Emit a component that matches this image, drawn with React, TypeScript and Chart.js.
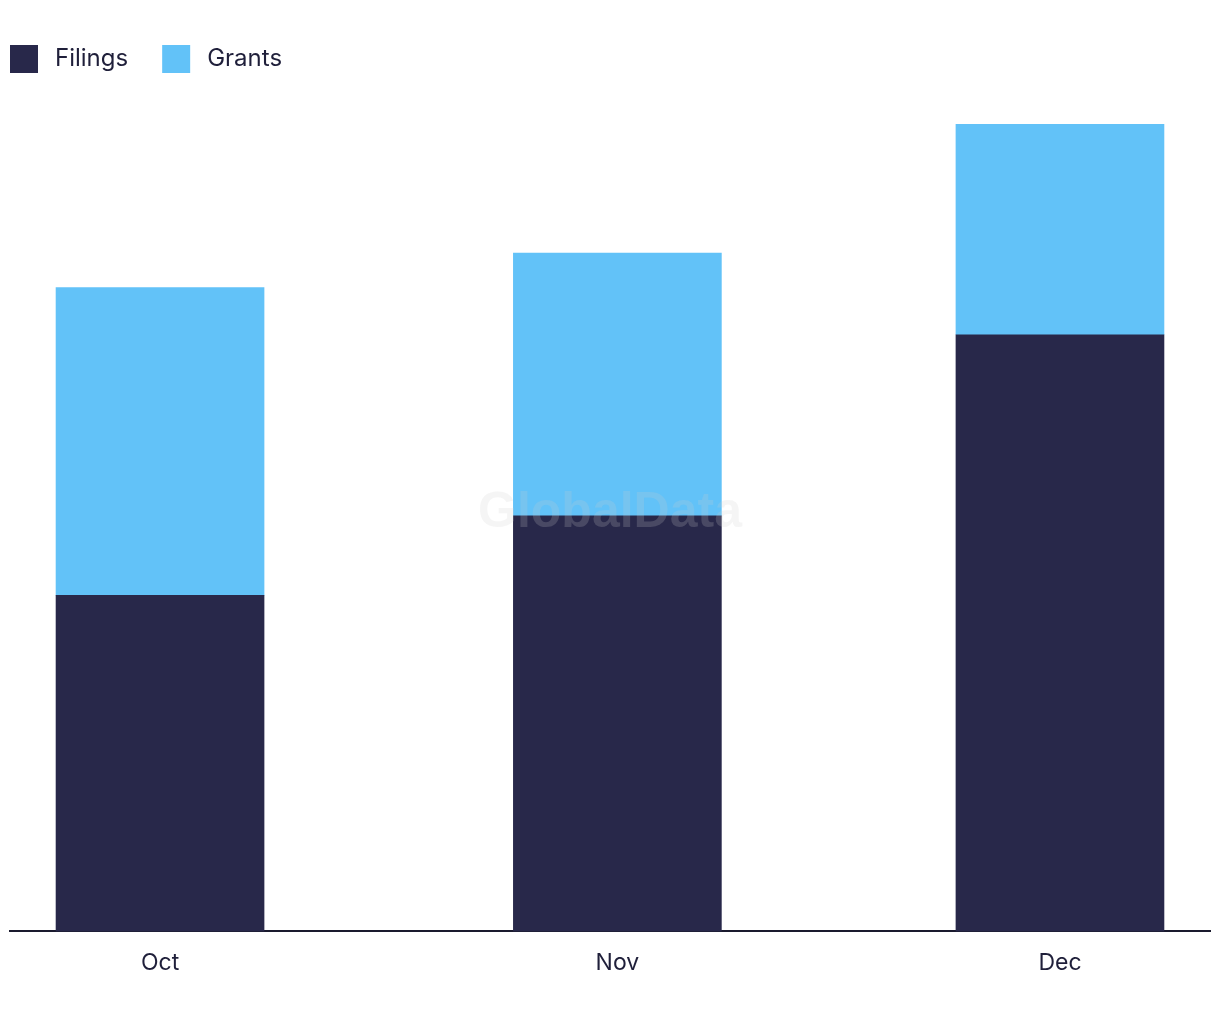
import React, { useEffect, useRef } from "react";
import { Chart, registerables } from "chart.js";

Chart.register(...registerables);

const categories = ["Oct", "Nov", "Dec"];
// position of each month on a day axis (days since 1 Oct)
const monthDays = [0, 31, 61];
const filings = [32.1, 39.7, 57.0];
const grants = [29.4, 25.1, 20.1];

const seriesNames = ["Filings", "Grants"];
const seriesColors = ["#28284A", "#62C2F8"];
const textColor = "#1F1F3A";
const FONT = "Inter, 'Noto Sans', sans-serif";

const legendPlugin = {
  id: "customLegend",
  afterDraw(chart: any) {
    const ctx = chart.ctx;
    ctx.save();
    ctx.font = `24px ${FONT}`;
    ctx.textBaseline = "middle";
    let x = 10;
    const y = 45;
    chart.data.datasets.forEach((ds: any) => {
      ctx.fillStyle = ds.backgroundColor;
      ctx.fillRect(x, y, 28, 28);
      ctx.fillStyle = textColor;
      ctx.textAlign = "left";
      ctx.fillText(ds.label, x + 45, y + 14);
      x += 45 + ctx.measureText(ds.label).width + 34;
    });
    ctx.restore();
  },
};

const watermarkPlugin = {
  id: "watermark",
  afterDatasetsDraw(chart: any) {
    const ctx = chart.ctx;
    ctx.save();
    ctx.font = "bold 50px 'Liberation Sans', Arial, sans-serif";
    ctx.fillStyle = "rgba(205,205,205,0.2)";
    ctx.textAlign = "center";
    ctx.textBaseline = "alphabetic";
    ctx.fillText("GlobalData", 610, 527);
    ctx.restore();
  },
};

export default function App() {
  const ref = useRef<HTMLCanvasElement>(null);
  useEffect(() => {
    document.body.style.margin = "0";
    if (!ref.current) return;
    const chart = new Chart(ref.current, {
      type: "bar",
      data: {
        datasets: [
          {
            label: seriesNames[0],
            data: monthDays.map((d, i) => ({ x: d, y: filings[i] })),
            backgroundColor: seriesColors[0],
            borderWidth: 0,
            barThickness: 208,
          },
          {
            label: seriesNames[1],
            data: monthDays.map((d, i) => ({ x: d, y: grants[i] })),
            backgroundColor: seriesColors[1],
            borderWidth: 0,
            barThickness: 208,
          },
        ],
      },
      options: {
        animation: false,
        responsive: true,
        maintainAspectRatio: false,
        layout: { padding: { top: 94, left: 10, right: 10, bottom: 25 } },
        plugins: {
          legend: { display: false },
          tooltip: { enabled: false },
        },
        scales: {
          x: {
            type: "linear",
            stacked: true,
            offset: false,
            min: -10.17,
            max: 71.17,
            grid: { display: false, drawTicks: false, offset: false },
            border: { display: true, color: "#1A1A2E", width: 2 },
            afterBuildTicks: (scale: any) => {
              scale.ticks = monthDays.map((v) => ({ value: v }));
            },
            ticks: {
              padding: 18,
              color: textColor,
              font: { family: FONT, size: 23 },
              callback: (v: any) => categories[monthDays.indexOf(Number(v))] ?? "",
            },
          },
          y: {
            display: false,
            stacked: true,
            min: 0,
            max: 80,
          },
        },
      },
      plugins: [legendPlugin, watermarkPlugin],
    });
    return () => chart.destroy();
  }, []);
  return (
    <div style={{ width: 1220, height: 1020, position: "relative" }}>
      <canvas ref={ref} />
    </div>
  );
}
